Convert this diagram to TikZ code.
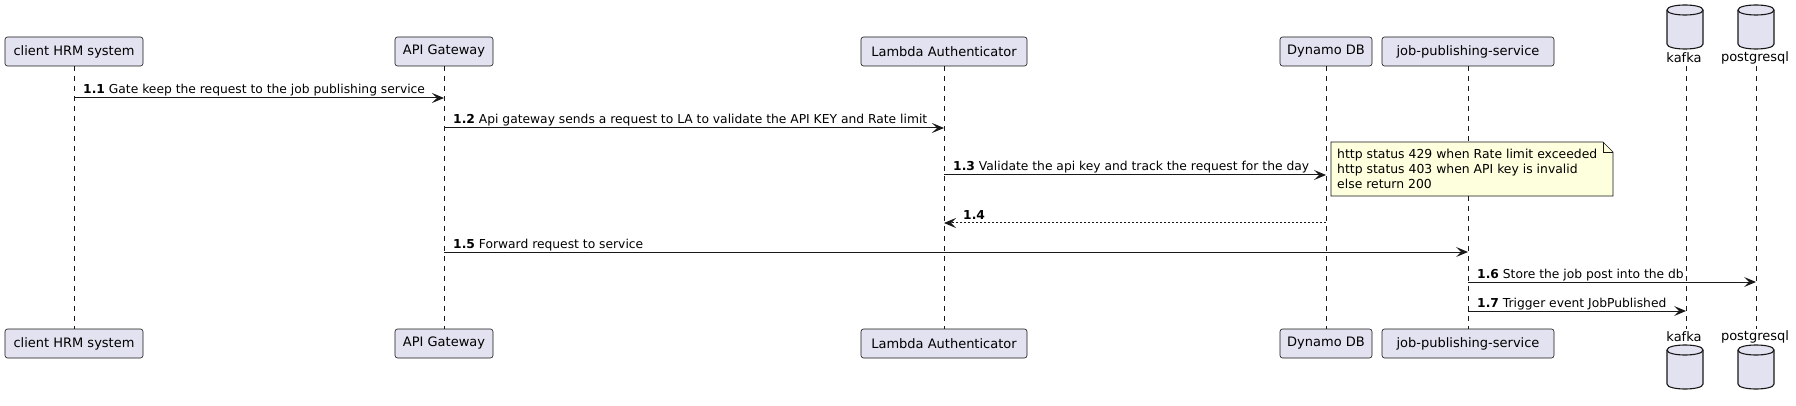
\documentclass[tikz,border=0pt]{standalone}
\usepackage{fontspec}
\setmainfont{DejaVu Sans}
\usetikzlibrary{arrows.meta,calc}
\definecolor{partfill}{HTML}{E2E2F0}
\definecolor{ink}{HTML}{181818}
\definecolor{notefill}{HTML}{FEFFDD}
\newcommand\dbcyl[2]{%
  \filldraw[draw=ink, line width=1.1pt, fill=partfill] ({#1-18},{#2+5}) -- ({#1-18},{#2+39}) .. controls ({#1-18},{#2+45.67}) and ({#1+18},{#2+45.67}) .. ({#1+18},{#2+39}) -- ({#1+18},{#2+5}) .. controls ({#1+18},{#2-1.67}) and ({#1-18},{#2-1.67}) .. ({#1-18},{#2+5}) -- cycle;
  \draw[draw=ink, line width=1.1pt] ({#1-18},{#2+5}) .. controls ({#1-18},{#2+11.67}) and ({#1+18},{#2+11.67}) .. ({#1+18},{#2+5});
}
\begin{document}
\begin{tikzpicture}[x=1pt,y=-1pt,
  part/.style={draw=ink, line width=0.6pt, fill=partfill, rounded corners=2.5pt, minimum height=29pt, inner sep=0pt, font=\fontsize{13}{15}\selectfont},
  life/.style={draw=ink, line width=0.5pt, dash pattern=on 5pt off 5pt},
  msg/.style={draw=ink, line width=1pt, -{Stealth[length=12pt,width=10pt,inset=5pt]}},
  ret/.style={msg, dash pattern=on 2pt off 2pt},
  lbl/.style={anchor=base west, inner sep=0pt, font=\fontsize{12.3}{15}\selectfont},
  dbl/.style={inner sep=0pt, font=\fontsize{13}{15}\selectfont},
]
\useasboundingbox[fill=white] (0,0) rectangle (1796,406);

% participants (top)
\node[part, minimum width=138pt] (client) at (74,51.5) {client HRM system};
\node[part, minimum width=98pt]  (api)    at (444,51.5) {API Gateway};
\node[part, minimum width=166pt] (lambda) at (944,51.5) {Lambda Authenticator};
\node[part, minimum width=92pt]  (dynamo) at (1326,51.5) {Dynamo DB};
\node[part, minimum width=172pt] (job)    at (1468,51.5) {job-publishing-service};
% participants (bottom)
\node[part, minimum width=138pt] (clientB) at (74,343.5) {client HRM system};
\node[part, minimum width=98pt]  (apiB)    at (444,343.5) {API Gateway};
\node[part, minimum width=166pt] (lambdaB) at (944,343.5) {Lambda Authenticator};
\node[part, minimum width=92pt]  (dynamoB) at (1326,343.5) {Dynamo DB};
\node[part, minimum width=172pt] (jobB)    at (1468,343.5) {job-publishing-service};

% databases
\dbcyl{1685}{5}
\dbcyl{1756}{5}
\dbcyl{1685}{345}
\dbcyl{1756}{345}
\node[dbl] (kafka)  at (1684,58) {kafka};
\node[dbl] (pg)     at (1755,58) {postgresql};
\node[dbl] (kafkaB) at (1684,337) {kafka};
\node[dbl] (pgB)    at (1755,337) {postgresql};
\coordinate (kafkaL) at (1686,66);
\coordinate (kafkaLB) at (1686,329);
\coordinate (pgL) at (1756,66);
\coordinate (pgLB) at (1756,329);

% lifelines
\draw[life] (client.south) -- (clientB.north);
\draw[life] (api.south) -- (apiB.north);
\draw[life] (lambda.south) -- (lambdaB.north);
\draw[life] (dynamo.south) -- (dynamoB.north);
\draw[life] (job.south) -- (jobB.north);
\draw[life] (kafkaL) -- (kafkaLB);
\draw[life] (pgL) -- (pgLB);

% note
\draw[draw=ink, line width=0.6pt, fill=notefill] (1331,142) -- (1603,142) -- (1613,152) -- (1613,196) -- (1331,196) -- cycle;
\draw[draw=ink, line width=0.6pt] (1603,142) -- (1603,152) -- (1613,152);
\node[anchor=north west, inner sep=0pt, align=left, font=\fontsize{12.4}{15}\selectfont] (note) at (1337,149)
  {http status 429 when Rate limit exceeded\\http status 403 when API key is invalid\\else return 200};

% message rows
\coordinate (r1) at (0,98);
\coordinate (r2) at (0,128);
\coordinate (r3) at (0,175);
\coordinate (r4) at (0,223);
\coordinate (r5) at (0,252);
\coordinate (r6) at (0,282);
\coordinate (r7) at (0,311);

\draw[msg] (client.south |- r1) -- (api.south |- r1);
\node[lbl] (t1) at ($(client.south |- r1)+(9,-4)$) {\textbf{1.1} Gate keep the request to the job publishing service};

\draw[msg] (api.south |- r2) -- (lambda.south |- r2);
\node[lbl] (t2) at ($(api.south |- r2)+(9,-4)$) {\textbf{1.2} Api gateway sends a request to LA to validate the API KEY and Rate limit};

\draw[msg] (lambda.south |- r3) -- (dynamo.south |- r3);
\node[lbl] (t3) at ($(lambda.south |- r3)+(9,-4)$) {\textbf{1.3} Validate the api key and track the request for the day};

\draw[ret] (dynamo.south |- r4) -- (lambda.south |- r4);
\node[lbl] (t4) at ($(lambda.south |- r4)+(19,-4)$) {\textbf{1.4}};

\draw[msg] (api.south |- r5) -- (job.south |- r5);
\node[lbl] (t5) at ($(api.south |- r5)+(9,-4)$) {\textbf{1.5} Forward request to service};

\draw[msg] (job.south |- r6) -- (pgL |- r6);
\node[lbl] (t6) at ($(job.south |- r6)+(9,-4)$) {\textbf{1.6} Store the job post into the db};

\draw[msg] (job.south |- r7) -- (kafkaL |- r7);
\node[lbl] (t7) at ($(job.south |- r7)+(9,-4)$) {\textbf{1.7} Trigger event JobPublished};
\end{tikzpicture}
\end{document}
